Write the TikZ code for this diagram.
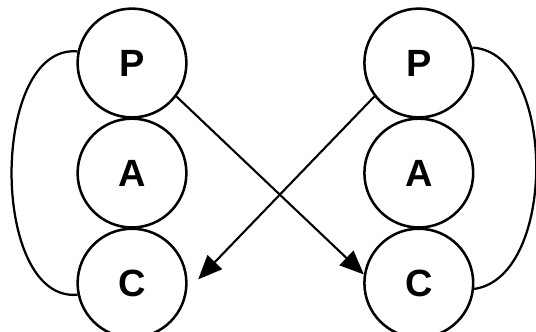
\documentclass[tikz,border=0pt]{standalone}
\usepackage{fontspec}
\setmainfont{Liberation Sans}
\usetikzlibrary{arrows,arrows.meta}

\begin{document}
\begin{tikzpicture}

        % Стили:
        \tikzstyle{estado}=[draw, circle, line width=1.8pt, minimum size=2.72cm,
        inner sep=0pt, font=\fontsize{27}{30}\selectfont\bfseries]
        \tikzstyle{lazo} = [draw, line width=1.6pt]
        \tikzstyle{line} = [draw, line width=1.5pt,
        -{Triangle[length=0.6cm,width=0.5cm]}]

        \newcommand{\estado}[3]{node (e#1) [estado,#3] {#2}}

        \useasboundingbox (0,0) rectangle (13.4,8.275);

        % Круги:
        \path (3.3,6.7) \estado{lp}{P}{};
        \path (elp.south)+(0,-1.36) \estado{la}{A}{};
        \path (ela.south)+(0,-1.36) \estado{lc}{C}{};

        \path (10.47,6.7) \estado{rp}{P}{};
        \path (erp.south)+(0,-1.36) \estado{ra}{A}{};
        \path (era.south)+(0,-1.36) \estado{rc}{C}{};

        % Дуги:
        \path [lazo] (elp.168) .. controls +(-2.2,0.2) and +(-2.2,-0.2) .. (elc.192);
        \path [lazo] (erp.16) .. controls +(2.1,-0.1) and +(2.1,0.3) .. (erc.-6);

        % Стрелки:
        \path [line] (elp.-37) -- (erc.171);
        \path [line, shorten >=0.4cm] (erp.217) -- (elc.-8);
\end{tikzpicture}
\end{document}
